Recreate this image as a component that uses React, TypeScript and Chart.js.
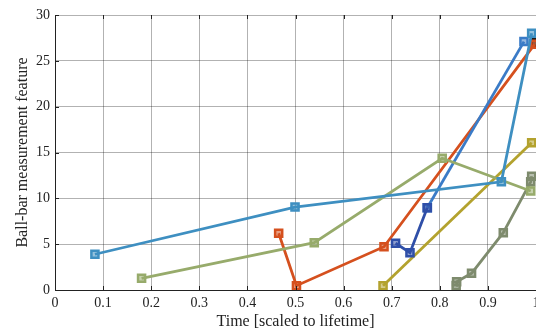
import React, { useEffect, useRef } from "react";
import { Chart, registerables } from "chart.js";

Chart.register(...registerables);

const xTicks = [0, 0.1, 0.2, 0.3, 0.4, 0.5, 0.6, 0.7, 0.8, 0.9, 1];
const yTicks = [0, 5, 10, 15, 20, 25, 30];

const lightBlueX = [0.083, 0.499, 0.928, 0.991];
const lightBlueY = [3.9, 9.05, 11.8, 28.0];

const midBlueX = [0.774, 0.975];
const midBlueY = [8.97, 27.1];

const darkBlueX = [0.708, 0.738, 0.774];
const darkBlueY = [5.1, 4.07, 8.97];

const orangeX = [0.465, 0.502, 0.684, 0.997];
const orangeY = [6.19, 0.47, 4.72, 26.8];

const greenX = [0.18, 0.539, 0.805, 0.989];
const greenY = [1.28, 5.16, 14.37, 10.8];

const yellowX = [0.682, 0.991];
const yellowY = [0.47, 16.07];

const grayX = [0.834, 0.835, 0.866, 0.932, 0.989, 0.991];
const grayY = [0.5, 0.9, 1.82, 6.25, 11.8, 12.4];

const blackX = [0.998];
const blackY = [27.0];

function pts(xs: number[], ys: number[]) {
  return xs.map((x, i) => ({ x, y: ys[i] }));
}

function ds(label: string, xs: number[], ys: number[], color: string, fill: string) {
  return {
    label,
    data: pts(xs, ys),
    showLine: true,
    borderColor: color,
    borderWidth: 2.8,
    pointStyle: "rect" as const,
    pointRadius: 5,
    pointBorderWidth: 2.5,
    pointBorderColor: color,
    pointBackgroundColor: fill,
    tension: 0,
  };
}

const inwardTicks = {
  id: "inwardTicks",
  afterDatasetsDraw(chart: any) {
    const { ctx, chartArea, scales } = chart;
    ctx.save();
    ctx.strokeStyle = "#222";
    ctx.lineWidth = 1;
    ctx.beginPath();
    xTicks.forEach((t) => {
      const px = Math.round(scales.x.getPixelForValue(t)) + 0.5;
      ctx.moveTo(px, chartArea.bottom);
      ctx.lineTo(px, chartArea.bottom - 4);
      ctx.moveTo(px, chartArea.top);
      ctx.lineTo(px, chartArea.top + 4);
    });
    yTicks.forEach((t) => {
      const py = Math.round(scales.y.getPixelForValue(t)) + 0.5;
      ctx.moveTo(chartArea.left, py);
      ctx.lineTo(chartArea.left + 4, py);
    });
    ctx.stroke();
    ctx.restore();
  },
};

export default function App() {
  const ref = useRef<HTMLCanvasElement | null>(null);
  useEffect(() => {
    document.body.style.margin = "0";
    const canvas = ref.current!;
    const chart = new Chart(canvas, {
      type: "scatter",
      data: {
        datasets: [
          ds("lightblue", lightBlueX, lightBlueY, "#3e8fc1", "rgba(62,143,193,0.55)"),
          ds("green", greenX, greenY, "#97ab6b", "rgba(151,171,107,0.55)"),
          ds("darkblue", darkBlueX, darkBlueY, "#2f4fa8", "rgba(47,79,168,0.55)"),
          ds("midblue", midBlueX, midBlueY, "#3a7bc7", "rgba(58,123,199,0.55)"),
          ds("yellow", yellowX, yellowY, "#b3a22e", "rgba(179,162,46,0.55)"),
          ds("gray", grayX, grayY, "#7e8b6d", "rgba(126,139,109,0.55)"),
          ds("orange", orangeX, orangeY, "#d5501e", "rgba(213,80,30,0.55)"),
          ds("black", blackX, blackY, "#1a1a1a", "rgba(26,26,26,0.7)"),
        ],
      },
      options: {
        animation: false,
        responsive: false,
        maintainAspectRatio: false,
        layout: { padding: { left: 0, top: 15, right: 10, bottom: 0 } },
        plugins: { legend: { display: false }, tooltip: { enabled: false } },
        scales: {
          x: {
            type: "linear",
            min: 0,
            max: 1,
            afterBuildTicks(scale: any) {
              scale.ticks = xTicks.map((v) => ({ value: v }));
            },
            afterFit(scale: any) {
              scale.height = 41;
            },
            grid: { color: "rgba(0,0,0,0.3)", drawTicks: false },
            border: { color: "#222", width: 1 },
            ticks: {
              padding: 5,
              color: "#222",
              font: { family: "Liberation Serif", size: 14 },
              maxRotation: 0,
              autoSkip: false,
              callback: (v: any) => String(Number(Number(v).toFixed(1))),
            },
            title: {
              display: true,
              text: "Time [scaled to lifetime]",
              color: "#222",
              font: { family: "Liberation Serif", size: 16 },
              padding: { top: 0, bottom: 0 },
            },
          },
          y: {
            type: "linear",
            min: 0,
            max: 30,
            afterBuildTicks(scale: any) {
              scale.ticks = yTicks.map((v) => ({ value: v }));
            },
            afterFit(scale: any) {
              scale.width = 55;
            },
            grid: { color: "rgba(0,0,0,0.3)", drawTicks: false },
            border: { color: "#222", width: 1 },
            ticks: {
              padding: 5,
              color: "#222",
              font: { family: "Liberation Serif", size: 14 },
              autoSkip: false,
            },
            title: {
              display: true,
              text: "Ball-bar measurement feature",
              color: "#222",
              font: { family: "Liberation Serif", size: 16 },
              padding: { top: 13, bottom: 0 },
            },
          },
        },
      },
      plugins: [inwardTicks],
    });
    return () => chart.destroy();
  }, []);
  return (
    <div style={{ width: 536, height: 331, overflow: "hidden", position: "relative" }}>
      <canvas ref={ref} width={546} height={331} style={{ display: "block", width: 546, height: 331 }} />
    </div>
  );
}
